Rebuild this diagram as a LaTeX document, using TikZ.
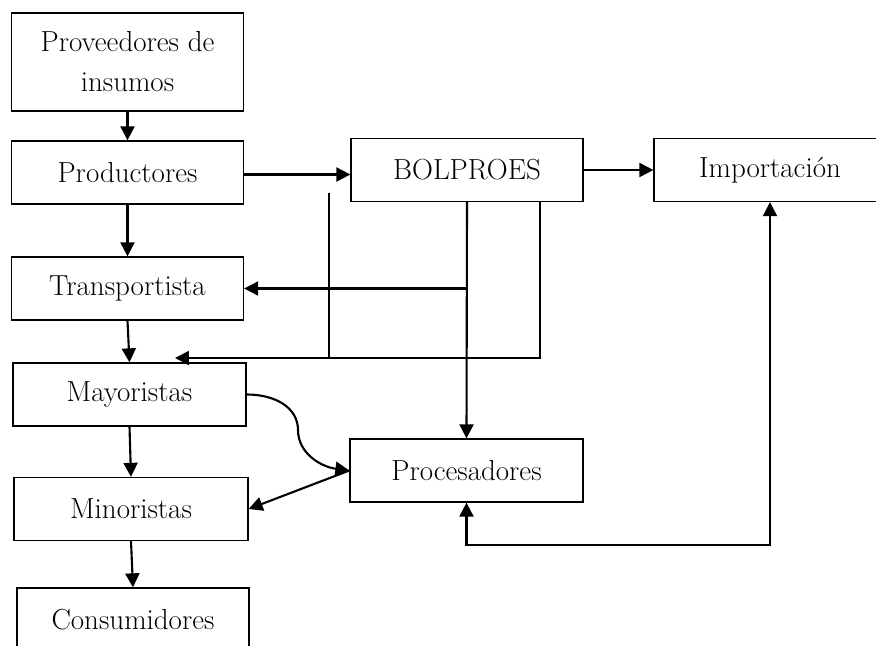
\documentclass[tikz,border=0pt]{standalone}
\usepackage{tikz}
\usetikzlibrary{calc}
\usetikzlibrary{arrows.meta}
\tikzstyle{caja}=[draw,line width=0.75pt,minimum width=4.64cm,minimum height=1.26cm,
                  inner sep=2pt,align=center,font=\fontsize{16.5}{22.8}\selectfont]
\tikzset{>={Triangle[length=0.28cm,width=0.28cm]}}
\tikzstyle{flecha}=[->,line width=1.2pt]
\tikzstyle{linea}=[line width=1.2pt]

\begin{document}
\begin{tikzpicture}[x=0.02cm,y=-0.02cm]

% Frame
\useasboundingbox (0,0) rectangle (876,646);
\clip (0,0) rectangle (876,646);

% Left column
\node[caja,minimum height=1.96cm] (prov) at (127.5,62) {Proveedores de\\insumos};
\node[caja] (prod) at (127.5,172.5) {Productores};
\node[caja] (trans) at (127.5,288.5) {Transportista};
\node[caja,minimum width=4.66cm] (mayo) at (129.5,394.5) {Mayoristas};
\node[caja,minimum width=4.68cm] (mino) at (131,509) {Minoristas};
\node[caja] (cons) at (133,619.5) {Consumidores};

% Right side
\node[caja] (bol) at (467,170) {BOLPROES};
\node[caja] (imp) at (770,170) {Importación};
\node[caja,minimum width=4.66cm] (proc) at (466.5,470.5) {Procesadores};

% Chain down the left
\draw[flecha] (prov) -- (prod);
\draw[flecha] (prod) -- (trans);
\draw[flecha] (trans.south) -- (mayo.north);
\draw[flecha] (mayo.south) -- (mino.north);
\draw[flecha] (mino.south) -- (cons.north);

% Top row
\draw[flecha] ([yshift=-0.04cm]prod.east) -- ([yshift=-0.04cm]prod.east -| bol.west);
\draw[flecha] (bol) -- (imp);

% From BOLPROES down
\draw[flecha] (bol.south) -- (proc.north);
\draw[flecha] (bol.south |- trans.east) -- (trans.east);

\coordinate (bolr) at ([xshift=1.46cm]bol.south);
\coordinate (vtop) at (329,193);
\coordinate (mtip) at (175,358);
\draw[linea] (vtop) -- (vtop |- mtip);
\draw[flecha] (bolr) -- (bolr |- mtip) -- (mtip);

% Mayoristas / Procesadores / Minoristas
\draw[flecha] (mayo.east) .. controls (276,394.5) and (298,408) .. (298,430)
              .. controls (298,454) and (322,467) .. (proc.west);
\draw[flecha] (proc.west) -- (mino.east);

% Importacion loop
\draw[flecha,<->] (proc.south) -- ++(0,42) -| (imp.south);

\end{tikzpicture}
\end{document}
